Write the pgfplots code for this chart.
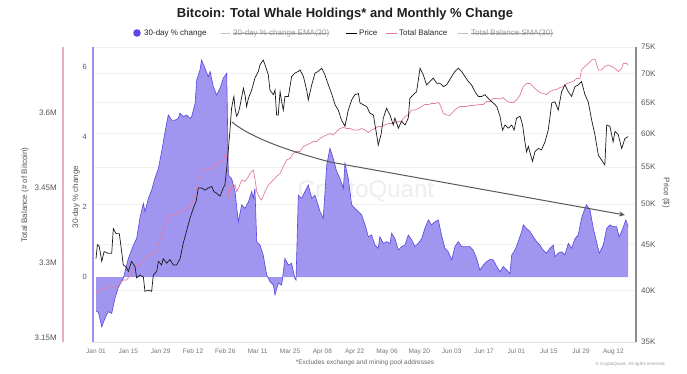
\documentclass[border=0pt]{standalone}
\usepackage{fontspec}
\setmainfont{Liberation Sans}
\usepackage{pgfplots}
\usepackage{pgfplotstable}
\pgfplotsset{compat=1.18}
\usetikzlibrary{arrows.meta,calc}

\definecolor{pctfill}{HTML}{A196EF}
\definecolor{pctline}{HTML}{5646E0}
\definecolor{balpink}{HTML}{E27AA6}
\definecolor{balaxis}{HTML}{E9AEC7}
\definecolor{pctaxis}{HTML}{9C8FF0}
\definecolor{tickgray}{HTML}{555555}
\definecolor{gridgray}{HTML}{F0F0F0}
\definecolor{legdot}{HTML}{5B47E8}

\pgfplotstableread{
day pct
0.0 -0.99
1.0 -1.00
2.5 -1.42
3.9 -1.18
5.3 -0.99
6.8 -1.04
8.2 -0.61
9.7 -0.29
11.8 -0.04
14.0 0.53
16.2 0.91
17.6 1.10
19.0 1.68
20.5 2.10
21.2 1.87
22.7 2.25
24.1 2.49
25.5 2.82
27.0 3.10
28.4 3.58
29.9 4.15
31.3 4.63
32.8 4.48
34.2 4.48
35.6 4.53
36.4 4.68
37.8 4.58
39.2 4.63
40.7 4.53
41.4 4.58
42.9 4.96
43.6 5.63
45.0 5.91
45.7 6.20
47.2 5.96
48.6 5.72
49.4 5.87
50.8 5.44
52.2 5.20
53.7 5.39
55.1 5.68
56.6 5.82
57.3 2.91
58.7 2.82
60.2 2.44
61.6 1.58
63.1 2.06
64.5 1.96
66.0 2.15
67.4 2.44
68.1 2.25
68.8 2.53
69.6 1.01
71.0 0.91
72.4 0.63
73.9 0.06
75.3 -0.13
76.8 -0.23
77.5 -0.51
78.9 -0.18
80.4 -0.23
81.8 0.53
83.3 0.34
84.7 0.39
86.1 -0.04
86.6 -0.09
87.6 2.34
89.0 2.25
90.5 2.44
91.9 2.63
93.4 2.25
94.8 2.34
97.0 1.87
98.4 1.68
99.9 3.20
101.3 3.68
102.7 3.39
104.2 3.01
105.6 2.82
107.1 2.53
107.8 3.25
109.2 2.82
110.7 2.06
112.1 1.96
113.6 1.87
115.0 1.77
116.5 1.49
117.9 1.15
119.3 1.20
120.8 0.91
122.2 0.82
122.9 1.15
124.4 0.96
125.8 1.01
127.3 0.96
128.0 1.25
129.4 1.10
130.9 0.77
132.3 0.87
133.8 0.91
135.2 1.20
136.7 1.06
138.1 0.87
139.5 0.96
141.0 1.10
142.4 1.39
143.9 1.63
145.3 1.49
146.8 1.58
148.2 1.63
149.6 1.20
151.1 0.82
152.5 0.72
154.0 0.49
155.4 0.87
156.9 1.01
158.3 0.87
159.7 0.87
161.9 0.87
163.3 0.77
164.8 0.53
166.2 0.20
167.7 0.34
169.1 0.44
170.6 0.50
172.0 0.49
173.5 0.30
174.9 0.15
176.3 0.30
177.8 0.20
179.2 0.10
180.0 0.63
181.4 0.77
182.8 1.01
184.3 1.30
185.0 1.49
186.4 1.39
187.9 1.30
189.3 1.15
190.8 1.01
192.2 0.91
193.6 0.77
195.1 0.68
196.5 0.82
198.0 0.91
198.7 0.58
200.1 0.68
201.6 0.72
203.0 0.63
204.5 0.96
205.9 0.82
207.4 1.10
208.8 1.20
210.2 1.68
211.7 1.96
212.4 2.06
213.9 1.91
215.3 1.39
216.7 1.01
217.9 0.68
219.6 0.91
221.1 1.39
222.5 1.49
223.9 1.44
225.4 1.44
226.5 1.15
227.6 1.30
229.4 1.63
230.4 1.44
}\pcttable

\pgfplotstableread{
day price
0.0 43.4
0.6 45.0
1.4 44.8
2.5 43.1
3.5 44.2
5.3 44.0
6.8 44.0
7.5 46.9
8.7 46.3
10.1 46.3
11.1 44.2
11.8 42.7
13.0 42.5
14.0 42.0
15.4 43.1
16.9 42.5
17.6 41.3
19.0 41.6
20.5 41.4
21.2 39.9
22.7 40.0
24.1 39.9
24.8 41.6
26.3 42.0
27.0 43.1
28.4 42.7
29.1 43.4
30.6 42.9
32.0 43.3
33.5 42.7
34.9 42.7
36.4 43.4
37.8 45.2
39.2 46.6
40.7 48.2
42.1 49.4
43.3 50.3
44.3 52.1
45.7 52.1
47.2 51.8
48.6 52.1
50.1 52.3
51.1 51.6
52.2 51.4
53.7 51.0
55.1 52.1
55.8 52.5
56.6 54.8
57.3 57.5
58.0 60.5
58.7 64.0
59.5 65.7
59.7 66.0
60.2 64.0
60.9 62.7
61.6 63.2
62.3 64.3
63.8 67.4
64.5 66.3
65.2 64.3
66.0 65.7
67.4 67.1
68.8 69.2
70.3 70.4
71.0 71.6
72.4 72.5
73.2 71.6
74.6 69.8
75.3 67.1
76.8 66.3
77.5 67.1
78.2 62.9
78.9 62.9
79.7 66.8
80.4 65.1
81.1 63.7
81.8 66.0
83.3 66.0
84.7 69.5
86.1 70.1
87.6 70.4
88.3 70.7
89.8 69.5
91.2 67.1
91.9 65.4
93.4 68.0
94.8 70.1
96.2 70.4
97.7 71.0
99.1 69.8
100.6 68.0
102.0 66.5
103.5 64.6
104.9 63.7
106.3 62.1
107.8 61.1
109.2 63.7
110.7 65.4
112.1 66.3
113.6 66.5
114.3 64.9
115.7 64.6
117.2 64.3
118.6 63.2
120.1 62.9
120.8 61.3
121.5 59.8
122.2 58.2
123.4 59.8
124.4 62.4
125.8 64.0
127.3 62.9
128.7 61.3
129.4 62.4
130.9 60.8
132.3 61.9
133.8 61.3
135.2 62.4
135.9 65.7
137.4 66.3
138.8 66.8
140.3 71.0
141.7 69.8
143.1 68.0
144.6 68.6
146.0 69.2
147.5 68.3
148.9 68.3
150.4 67.7
151.8 68.0
154.0 69.5
155.4 70.4
156.9 71.0
158.3 70.4
159.7 69.5
161.2 68.6
162.6 68.0
164.1 66.8
165.5 66.0
167.0 66.0
168.4 66.3
169.8 65.7
171.3 65.1
172.0 64.9
173.5 64.3
174.9 62.7
176.0 60.5
177.1 61.3
178.5 60.8
180.0 61.3
181.0 60.5
182.1 62.4
183.6 62.7
184.7 61.3
185.7 58.7
186.4 57.2
187.2 58.0
188.2 56.7
189.0 55.8
190.0 57.2
191.5 57.7
192.9 57.5
194.4 58.7
195.8 60.5
196.5 62.4
197.3 64.9
198.7 65.1
200.1 63.7
201.6 66.8
203.0 68.0
204.5 66.8
205.9 66.0
207.4 67.7
208.8 68.0
210.2 68.6
211.7 66.3
213.1 65.1
214.6 62.1
216.0 59.8
217.5 56.7
218.9 56.0
220.3 55.3
221.1 61.3
222.5 61.1
223.9 58.7
224.7 60.3
226.1 59.8
227.6 57.7
229.0 59.2
230.4 59.5
}\pricetable

\pgfplotstableread{
day bal
0.0 3.243
1.7 3.244
3.9 3.249
5.3 3.253
6.8 3.255
8.2 3.249
9.7 3.256
11.8 3.266
13.3 3.266
14.7 3.276
16.2 3.289
17.6 3.293
19.0 3.296
20.5 3.303
21.9 3.313
23.4 3.317
24.8 3.319
26.3 3.326
27.7 3.346
29.1 3.363
30.6 3.383
32.0 3.395
33.5 3.395
34.9 3.397
36.4 3.403
37.8 3.406
39.2 3.406
40.7 3.416
42.1 3.426
43.6 3.449
44.3 3.469
45.0 3.483
46.5 3.486
47.9 3.488
49.4 3.489
50.8 3.493
52.2 3.499
53.7 3.503
55.1 3.506
55.8 3.516
56.6 3.516
56.9 3.476
57.3 3.433
58.0 3.443
58.7 3.456
59.5 3.449
60.2 3.456
60.9 3.443
61.6 3.449
63.1 3.466
64.5 3.463
66.0 3.473
66.7 3.479
68.1 3.486
68.8 3.469
69.6 3.443
71.0 3.429
71.7 3.426
73.2 3.443
74.6 3.456
76.8 3.466
78.2 3.473
79.7 3.479
81.1 3.493
82.5 3.506
84.0 3.509
85.4 3.519
86.9 3.523
88.3 3.523
89.8 3.533
91.2 3.536
92.6 3.539
94.1 3.543
95.5 3.543
97.0 3.549
98.4 3.553
99.9 3.556
101.3 3.559
102.7 3.556
104.2 3.563
105.6 3.569
107.1 3.571
108.5 3.569
110.0 3.569
111.4 3.566
112.8 3.566
113.6 3.566
115.0 3.569
116.5 3.566
117.9 3.561
119.3 3.566
120.8 3.569
122.2 3.573
123.7 3.573
125.1 3.576
126.6 3.579
128.0 3.579
129.4 3.581
130.9 3.583
132.3 3.584
133.8 3.593
135.2 3.596
136.7 3.606
138.1 3.606
139.5 3.609
141.0 3.613
142.4 3.617
143.9 3.617
145.3 3.619
146.8 3.619
148.2 3.621
148.9 3.617
150.4 3.599
151.8 3.596
153.2 3.595
154.7 3.603
156.1 3.609
157.6 3.613
159.0 3.613
160.5 3.613
161.9 3.615
163.3 3.615
164.8 3.616
166.2 3.617
167.7 3.617
169.1 3.623
170.6 3.623
172.0 3.629
173.5 3.629
174.9 3.628
176.3 3.631
177.8 3.624
179.2 3.621
180.7 3.621
182.1 3.626
183.6 3.636
185.0 3.653
186.4 3.659
187.9 3.659
189.3 3.653
190.8 3.646
192.2 3.641
193.6 3.639
195.1 3.637
196.5 3.643
198.0 3.646
199.4 3.647
200.9 3.651
202.3 3.653
203.8 3.659
205.2 3.661
206.6 3.663
208.1 3.669
209.5 3.669
210.2 3.686
211.7 3.693
213.1 3.699
214.6 3.706
216.0 3.708
217.5 3.686
218.9 3.686
220.3 3.693
221.8 3.696
223.2 3.693
224.7 3.689
226.1 3.683
227.6 3.689
228.3 3.699
229.7 3.699
230.4 3.696
}\baltable

\begin{document}
\begin{tikzpicture}[x=1pt,y=1pt]
\path[use as bounding box] (0,0) rectangle (687,373);
\pgfplotsset{
  base/.style={scale only axis, width=543pt, height=295pt,
    at={(93pt,31pt)}, anchor=south west,
    xmin=-1.3, xmax=233.8, clip=false,
    /pgf/number format/assume math mode=true},
}
% watermark
\node[text=black!7, font=\fontsize{24}{28}\selectfont] at (366,181) {CryptoQuant};

% Axis 1: price grid + right axis
\begin{axis}[base, ymode=log, ymin=35, ymax=75,
  axis x line=none, axis y line*=right,
  y axis line style={draw=black!45, line width=1.5pt},
  ytick={35,40,45,50,55,60,65,70,75},
  yticklabels={35K,40K,45K,50K,55K,60K,65K,70K,75K},
  yminorticks=false, ytick style={draw=none},
  yticklabel style={font=\fontsize{8}{9}\selectfont, text=tickgray, anchor=west, inner sep=0pt, xshift=5pt},
  ymajorgrids, grid style={gridgray, line width=0.6pt}]
\end{axis}

% Axis 2: 30-day % change
\begin{axis}[base, ymin=-1.857, ymax=6.571,
  axis x line*=bottom, axis y line*=left,
  x axis line style={draw=black!12, line width=0.6pt},
  y axis line style={draw=pctaxis, line width=1.2pt},
  xtick={0,14,28,42,56,70,84,98,112,126,140,154,168,182,196,210,224},
  xticklabels={Jan 01,Jan 15,Jan 29,Feb 12,Feb 26,Mar 11,Mar 25,Apr 08,Apr 22,May 06,May 20,Jun 03,Jun 17,Jul 01,Jul 15,Jul 29,Aug 12},
  xticklabel style={font=\fontsize{6.5}{7}\selectfont, text=black!55, anchor=north, inner sep=0pt, yshift=-7pt},
  ytick={0,2,4,6}, yticklabels={0,2,4,6},
  yticklabel style={font=\fontsize{7.5}{9}\selectfont, text=tickgray, anchor=east, inner sep=0pt, xshift=-6pt},
  tick style={draw=none}]
\addplot[fill=pctfill, draw=none] table[x=day, y=pct] {\pcttable} \closedcycle;
\addplot[pctline, line width=0.6pt] table[x=day, y=pct] {\pcttable};
\end{axis}

% Axis 3: total balance
\begin{axis}[base, ymin=3.142, ymax=3.732,
  axis x line=none, axis y line*=left,
  y axis line style={draw=balaxis, line width=1.2pt, xshift=-30pt},
  ytick={3.15,3.3,3.45,3.6}, yticklabels={3.15M,3.3M,3.45M,3.6M},
  yticklabel style={font=\fontsize{8}{9}\selectfont, text=tickgray, anchor=east, inner sep=0pt, xshift=-36pt},
  ytick style={draw=none}]
\addplot[balpink, line width=0.7pt] table[x=day, y=bal] {\baltable};
\end{axis}

% Axis 4: price line
\begin{axis}[base, ymode=log, ymin=35, ymax=75, hide axis]
\addplot[black!90, line width=0.7pt] table[x=day, y=price] {\pricetable};
\end{axis}

% trend arrow (annotation)
\draw[black!65, line width=1pt, -{Stealth[length=6pt,width=5pt]}]
  (232,251) .. controls (250,236) and (285,223) .. (330,211) -- (625,158);

% axis titles
\node[rotate=90, font=\fontsize{8}{9}\selectfont, text=tickgray] at (25,178) {Total Balance (\# of Bitcoin)};
\node[rotate=90, font=\fontsize{8}{9}\selectfont, text=tickgray] at (76,176) {30-day \% change};
\node[rotate=-90, font=\fontsize{8}{9}\selectfont, text=tickgray] at (666,180) {Price (\$)};

% title
\node[font=\bfseries\fontsize{13}{15}\selectfont, text=black!88] at (345,359) {Bitcoin: Total Whale Holdings* and Monthly \% Change};

% legend
\begin{scope}[font=\fontsize{8}{9}\selectfont]
\fill[legdot] (137,340) circle (3.8);
\node[anchor=west, inner sep=0pt, text=black!85] at (144,340) {30-day \% change};
\draw[black!25, line width=0.7pt] (221,340) -- (230,340);
\node[anchor=west, inner sep=0pt, text=black!40] (e1) at (233,340) {30-day \% change EMA(30)};
\draw[black!40, line width=0.5pt] (e1.west) -- (e1.east);
\draw[black, line width=0.8pt] (346,340) -- (357,340);
\node[anchor=west, inner sep=0pt, text=black!85] at (359,340) {Price};
\draw[balpink, line width=0.8pt] (386,340) -- (397,340);
\node[anchor=west, inner sep=0pt, text=black!85] at (399,340) {Total Balance};
\draw[black!25, line width=0.7pt] (458,340) -- (468,340);
\node[anchor=west, inner sep=0pt, text=black!40] (e2) at (471,340) {Total Balance SMA(30)};
\draw[black!40, line width=0.5pt] (e2.west) -- (e2.east);
\end{scope}

% footnotes
\node[font=\fontsize{6.5}{7}\selectfont, text=black!60] at (365,10) {*Excludes exchange and mining pool addresses};
\node[font=\fontsize{4.5}{5}\selectfont, text=black!40] at (630,9) {\textcopyright\ CryptoQuant. All rights reserved};
\end{tikzpicture}
\end{document}
